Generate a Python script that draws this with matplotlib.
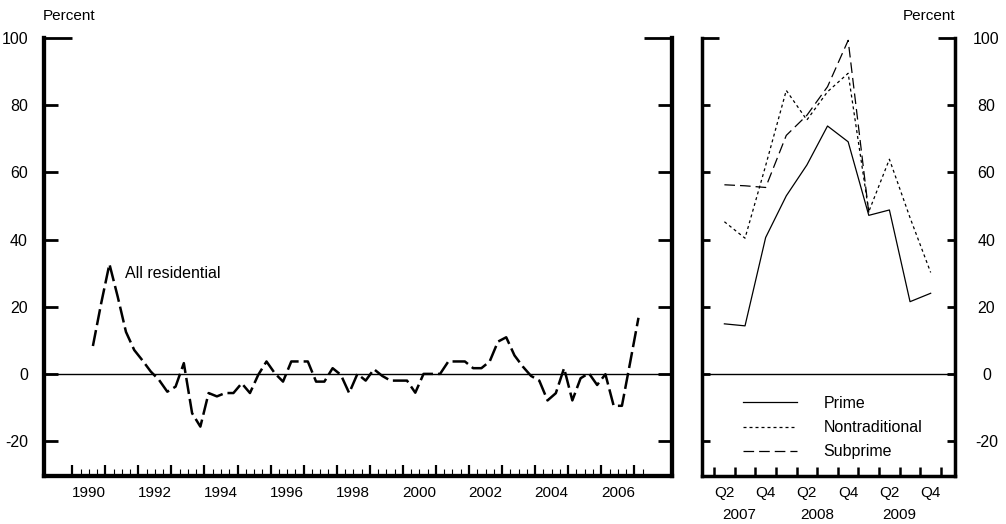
import numpy as np
import matplotlib
matplotlib.use("Agg")
import matplotlib.pyplot as plt
from matplotlib.ticker import FixedLocator, FuncFormatter, NullFormatter

plt.rcParams['font.family'] = ['Liberation Sans', 'DejaVu Sans']
NARROW = ['Liberation Sans Narrow', 'Liberation Sans', 'DejaVu Sans']

# ---------------- data ----------------
# Left panel: All residential, quarterly, first quarter 1990Q3
res_first_year = 1990
res_first_quarter = 3
all_residential = [8.3, 21.0, 32.7, 23.0, 12.5, 7.1, 4.0, 0.7, -1.8, -5.3,
                   -3.8, 3.2, -11.7, -15.7, -5.7, -6.7, -5.7, -5.7, -2.8, -5.7,
                   -0.3, 3.7, 0.2, -2.3, 3.7, 3.7, 3.7, -2.3, -2.3, 1.7,
                   -0.3, -5.7, 0.0, -2.0, 1.4, -0.6, -2.0, -2.0, -2.0, -5.6,
                   0.0, 0.0, 0.0, 3.7, 3.7, 3.7, 1.7, 1.7, 3.7, 9.6,
                   10.9, 5.5, 2.2, -0.6, -2.0, -7.9, -5.75, 1.7, -7.9, -1.3,
                   0.2, -3.3, -0.1, -9.5, -9.5, 3.5, 16.7]
left_year_labels = ['1990', '1992', '1994', '1996', '1998', '2000', '2002', '2004', '2006']

# Right panel: by loan type
quarters = ['2007Q2', '2007Q3', '2007Q4', '2008Q1', '2008Q2', '2008Q3',
            '2008Q4', '2009Q1', '2009Q2', '2009Q3', '2009Q4']
prime = [14.9, 14.3, 40.6, 53.0, 62.2, 73.8, 69.1, 47.2, 48.8, 21.5, 24.0]
nontraditional = [45.3, 40.4, 62.0, 84.4, 75.6, 84.0, 89.5, 48.3, 63.9, 46.5, 30.2]
subprime = [56.3, 56.0, 55.5, 71.0, 77.0, 85.5, 99.3, 48.0]
right_year_labels = ['2007', '2008', '2009']


def q_to_x(q):
    y, qq = int(q[:4]), int(q[5])
    return y + (qq - 1) * 0.25 + 0.125


res_x = [res_first_year + (res_first_quarter - 1) * 0.25 + 0.125 + 0.25 * i
         for i in range(len(all_residential))]
qx = [q_to_x(q) for q in quarters]

# ---------------- figure ----------------
W, H = 1006, 524
fig = plt.figure(figsize=(W / 100, H / 100), dpi=100)
bot = 1 - 476 / H
hgt = (476 - 38) / H
axL = fig.add_axes([43.8 / W, bot, (671.7 - 43.8) / W, hgt])
axR = fig.add_axes([701.7 / W, bot, (955 - 701.7) / W, hgt])

YLIM = (-30.4, 100)
yticks = [-20, 0, 20, 40, 60, 80]

# ---- left panel ----
axL.plot(res_x, all_residential, color='black', lw=1.8, dashes=(6.5, 2.0))
axL.axhline(0, color='black', lw=1.0)
axL.set_xlim(1989.14, 2008.13)
axL.set_ylim(*YLIM)
axL.text(1991.6, 30.0, 'All residential', fontsize=11.5, ha='left', va='center')

for s in ['left', 'right', 'bottom']:
    axL.spines[s].set_linewidth(3.1)
    axL.spines[s].set_capstyle('projecting')
axL.spines['top'].set_visible(False)

axL.set_yticks(yticks)
axL.set_yticklabels([str(v) for v in yticks])
axL.yaxis.set_minor_locator(FixedLocator([100]))
axL.yaxis.set_minor_formatter(FuncFormatter(lambda v, p: '100'))
axL.tick_params(axis='y', which='major', direction='in', left=True, right=True,
                labelleft=True, labelright=False, length=10.4, width=2.0,
                pad=11.4, labelsize=11.5)
axL.tick_params(axis='y', which='minor', direction='in', left=True, right=True,
                labelleft=True, labelright=False, length=20, width=2.0,
                pad=11.4, labelsize=11.5)

major_years = list(range(1990, 2008))
minor_q = [y + f for y in range(1990, 2008) for f in (0.25, 0.5, 0.75)]
minor_q = [m for m in minor_q if m <= 2007.25]
axL.xaxis.set_major_locator(FixedLocator(major_years))
axL.xaxis.set_major_formatter(NullFormatter())
axL.xaxis.set_minor_locator(FixedLocator(minor_q))


def left_fmt(v, p):
    for lab in left_year_labels:
        if abs(v - (int(lab) + 0.5)) < 1e-6:
            return lab
    return ''


axL.xaxis.set_minor_formatter(FuncFormatter(left_fmt))
axL.tick_params(axis='x', which='major', direction='in', length=8, width=1.6)
axL.tick_params(axis='x', which='minor', direction='in', length=5, width=0.8,
                pad=7.5, labelsize=11, labelfontfamily=NARROW)

# ---- right panel ----
axR.plot(qx, prime, color='black', lw=0.9, label='Prime')
axR.plot(qx, nontraditional, color='black', lw=0.9, dashes=(2.4, 2.4),
         label='Nontraditional')
axR.plot(qx[:len(subprime)], subprime, color='black', lw=0.9, dashes=(8.5, 4.0),
         label='Subprime')
axR.axhline(0, color='black', lw=1.0)
axR.set_xlim(2007.10, 2010.17)
axR.set_ylim(*YLIM)

for s in ['left', 'right', 'bottom']:
    axR.spines[s].set_linewidth(2.5)
    axR.spines[s].set_capstyle('projecting')
axR.spines['top'].set_visible(False)

axR.set_yticks(yticks)
axR.set_yticklabels([str(v) for v in yticks])
axR.yaxis.set_minor_locator(FixedLocator([100]))
axR.yaxis.set_minor_formatter(FuncFormatter(lambda v, p: '100'))
for which, ln in (('major', 6), ('minor', 12)):
    axR.tick_params(axis='y', which=which, direction='in', left=True, right=True,
                    labelleft=False, labelright=True, length=ln, width=2.0,
                    pad=22.7, labelsize=11.5)
for lab in axR.get_yticklabels(which='both'):
    lab.set_horizontalalignment('center')

qticks = [2007.25 + 0.25 * i for i in range(12)]
axR.xaxis.set_major_locator(FixedLocator(qticks))
axR.xaxis.set_major_formatter(NullFormatter())
axR.xaxis.set_minor_locator(FixedLocator(qx))
axR.xaxis.set_minor_formatter(FuncFormatter(
    lambda v, p: {2: 'Q2', 4: 'Q4'}.get(int(round((v - int(v) - 0.125) / 0.25)) + 1, '')))
axR.tick_params(axis='x', which='major', direction='in', length=6.5, width=1.8)
axR.tick_params(axis='x', which='minor', direction='in', length=0, pad=7.5,
                labelsize=11, labelfontfamily=NARROW)

x0, x1 = axR.get_xlim()
for lab in right_year_labels:
    y = int(lab)
    cx = (max(y, x0) + min(y + 1, x1)) / 2
    axR.text(cx, -0.0885, lab, transform=axR.get_xaxis_transform(),
             ha='center', va='center', fontsize=11, family=NARROW)

leg_y = (-16.0 - YLIM[0]) / (YLIM[1] - YLIM[0])
axR.legend(loc='center left', bbox_to_anchor=(0.163, leg_y), frameon=False,
           fontsize=11.5, handlelength=3.4, handletextpad=1.65,
           labelspacing=0.58, borderpad=0, borderaxespad=0)

fig.text(69 / W, 1 - 16 / H, 'Percent', fontsize=11, ha='center', va='center')
fig.text(955 / W, 1 - 16 / H, 'Percent', fontsize=11, ha='right', va='center')

fig.savefig('out.png', dpi=100)
